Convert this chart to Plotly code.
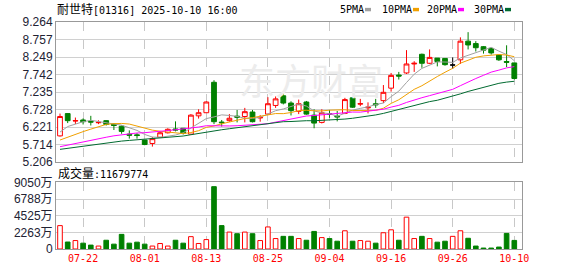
import plotly.graph_objects as go
import pandas as pd

# ---------------- data ----------------
dates = ["07-17", "07-18", "07-21", "07-22", "07-23", "07-24", "07-25", "07-28", "07-29", "07-30",
         "07-31", "08-01", "08-04", "08-05", "08-06", "08-07", "08-08", "08-11", "08-12", "08-13",
         "08-14", "08-15", "08-18", "08-19", "08-20", "08-21", "08-22", "08-25", "08-26", "08-27",
         "08-28", "08-29", "09-01", "09-02", "09-03", "09-04", "09-05", "09-08", "09-09", "09-10",
         "09-11", "09-12", "09-15", "09-16", "09-17", "09-18", "09-19", "09-22", "09-23", "09-24",
         "09-25", "09-26", "09-29", "09-30", "10-02", "10-03", "10-06", "10-08", "10-09", "10-10"]

opens = [5.97, 6.615, 6.40, 6.43, 6.39, 6.35, 6.41, 6.31, 6.25, 6.02,
         6.00, 5.85, 5.75, 5.93, 6.06, 6.17, 6.19, 6.02, 6.55, 6.64,
         7.52, 6.37, 6.41, 6.54, 6.53, 6.66, 6.49, 6.60, 6.85, 7.13,
         6.92, 6.68, 6.95, 6.57, 6.36, 6.61, 6.54, 6.62, 7.07, 6.89,
         6.78, 6.90, 6.99, 7.35, 7.73, 7.79, 8.05, 8.33, 8.07, 8.22,
         8.21, 8.02, 8.17, 8.71, 8.64, 8.55, 8.50, 8.31, 8.12, 8.08]
highs = [6.615, 6.62, 6.50, 6.475, 6.55, 6.42, 6.42, 6.34, 6.27, 6.13,
         6.05, 5.85, 5.94, 6.11, 6.19, 6.39, 6.19, 6.60, 6.74, 6.97,
         7.58, 6.43, 6.60, 6.72, 6.78, 6.72, 6.57, 7.09, 7.11, 7.23,
         6.97, 7.02, 6.98, 6.74, 6.74, 6.72, 6.69, 7.07, 7.07, 7.04,
         6.94, 7.04, 7.44, 7.79, 7.82, 8.45, 8.13, 8.35, 8.47, 8.22,
         8.21, 8.24, 8.82, 8.97, 8.71, 8.57, 8.52, 8.31, 8.59, 8.08]
lows = [5.95, 6.34, 6.31, 6.30, 6.27, 6.31, 6.27, 6.14, 6.03, 5.89,
        5.89, 5.70, 5.66, 5.93, 6.04, 6.10, 6.01, 6.02, 6.47, 6.64,
        6.31, 6.24, 6.38, 6.36, 6.36, 6.36, 6.38, 6.60, 6.78, 6.88,
        6.56, 6.60, 6.58, 6.19, 6.33, 6.49, 6.39, 6.60, 6.78, 6.83,
        6.62, 6.78, 6.92, 7.25, 7.60, 7.76, 7.82, 7.94, 8.05, 7.98,
        8.00, 7.91, 8.05, 8.47, 8.41, 8.35, 8.32, 8.14, 7.96, 7.60]
closes = [6.53, 6.41, 6.41, 6.38, 6.37, 6.36, 6.30, 6.27, 6.10, 5.99,
          5.98, 5.72, 5.89, 6.06, 6.16, 6.14, 6.05, 6.57, 6.64, 6.95,
          6.38, 6.35, 6.48, 6.51, 6.67, 6.38, 6.50, 6.90, 7.04, 6.92,
          6.70, 6.90, 6.60, 6.34, 6.64, 6.59, 6.52, 7.02, 6.80, 6.90,
          6.80, 6.87, 7.23, 7.72, 7.70, 8.05, 8.07, 8.07, 8.24, 8.12,
          8.03, 8.02, 8.71, 8.60, 8.52, 8.45, 8.37, 8.17, 8.10, 7.63]
# volume in 万 shares
volumes = [3180, 950, 1150, 795, 530, 400, 1190, 660, 1990, 795,
           930, 660, 400, 750, 400, 1190, 795, 1680, 750, 1280,
           8480, 3180, 2300, 2080, 2300, 2080, 1150, 3000, 1420, 1720,
           1720, 1420, 1190, 2390, 1550, 1420, 1060, 2480, 1060, 1150,
           1060, 795, 2210, 2610, 1190, 4330, 1420, 1720, 1420, 930,
           1060, 1720, 2480, 1460, 400, 130, 130, 265, 2120, 1167.9774]
# closes before the visible window (estimated so the MA lines start where they do)
prior_closes = [5.45, 5.42, 5.40, 5.43, 5.45, 5.41, 5.44, 5.42, 5.40, 5.44,
                5.44, 5.46, 5.47, 5.45, 5.48, 5.46, 5.44, 5.47, 5.49, 5.48,
                5.55, 5.60, 5.62, 5.65, 5.68, 5.61, 6.06, 6.03, 6.17]

x_labels = ["07-22", "08-01", "08-13", "08-25", "09-04", "09-16", "09-26", "10-10"]
price_ticks = [5.206, 5.714, 6.221, 6.728, 7.235, 7.742, 8.249, 8.757, 9.264]
vol_ticks = [0, 2262.5, 4525, 6787.5, 9050]
vol_tick_text = ["0", "2263万", "4525万", "6788万", "9050万"]
ma_periods = [5, 10, 20, 30]
ma_names = ["5PMA", "10PMA", "20PMA", "30PMA"]
ma_colors = ["#a0a0a0", "#f0a000", "#ff00ff", "#006a30"]
title_code = "[01316] 2025-10-10 16:00"
title_name = "耐世特"
last_volume = "11679774"

RED = "#ff0000"
GREEN = "#008000"

# ---------------- figure ----------------
n = len(dates)
xs = list(range(n))
tick_idx = [dates.index(d) for d in x_labels]

fig = go.Figure()

# watermark (drawn first so it lies beneath)
fig.add_trace(go.Scatter(x=[32.6], y=[7.40], mode="text", text=["东方财富"],
                         textfont=dict(family="Noto Sans CJK SC", size=36, color="#ececec"),
                         hoverinfo="skip", showlegend=False))

all_c = pd.Series(prior_closes + closes)
for p, name, col in zip(ma_periods, ma_names, ma_colors):
    ma = all_c.rolling(p).mean().iloc[-n:].tolist()
    fig.add_trace(go.Scatter(x=xs, y=ma, mode="lines", line=dict(color=col, width=1),
                             hoverinfo="skip", showlegend=False))

norm = [i for i in xs if closes[i] != opens[i]]
flat = [i for i in xs if closes[i] == opens[i]]
fig.add_trace(go.Candlestick(
    x=norm, open=[opens[i] for i in norm], high=[highs[i] for i in norm],
    low=[lows[i] for i in norm], close=[closes[i] for i in norm],
    increasing=dict(line=dict(color=RED, width=1), fillcolor="#ffffff"),
    decreasing=dict(line=dict(color=GREEN, width=1), fillcolor=GREEN),
    whiskerwidth=0, hoverinfo="skip", showlegend=False))
if flat:
    fig.add_trace(go.Candlestick(
        x=flat, open=[opens[i] for i in flat], high=[highs[i] for i in flat],
        low=[lows[i] for i in flat], close=[closes[i] for i in flat],
        increasing=dict(line=dict(color="#000000", width=1), fillcolor="#000000"),
        decreasing=dict(line=dict(color="#000000", width=1), fillcolor="#000000"),
        whiskerwidth=0, hoverinfo="skip", showlegend=False))

up = [closes[i] >= opens[i] for i in xs]
fig.add_trace(go.Bar(x=xs, y=volumes, xaxis="x2", yaxis="y2", width=0.6,
                     marker=dict(color=["#ffffff" if u else GREEN for u in up],
                                 line=dict(color=[RED if u else GREEN for u in up], width=1)),
                     hoverinfo="skip", showlegend=False))

L, R, T, B = 56, 56, 22, 21
W, H = 578, 276
PW, PH = W - L - R, H - T - B


def px(x):
    return (x - L) / PW


def py(y):
    return (H - B - y) / PH


axis_font = dict(family="Liberation Sans, Arial, Noto Sans CJK SC", size=12, color="#222233")
mono = "DejaVu Sans Mono, Noto Sans CJK SC"
xr = [-0.52, 60.0]
common_x = dict(range=xr, tickvals=tick_idx, ticktext=x_labels, showgrid=True,
                gridcolor="#c8c8c8", griddash="dash", gridwidth=1, zeroline=False,
                showline=True, mirror=True, linecolor="#999999", linewidth=1, ticks="")

fig.update_layout(
    width=W, height=H, margin=dict(l=L, r=R, t=T, b=B),
    paper_bgcolor="#ffffff", plot_bgcolor="#ffffff", showlegend=False,
    boxgap=0.38, boxgroupgap=0,
    xaxis=dict(**common_x, domain=[0, 1], anchor="y", showticklabels=False,
               rangeslider=dict(visible=False)),
    yaxis=dict(domain=[py(166), 1], range=[price_ticks[0], price_ticks[-1]],
               tickvals=price_ticks, ticktext=[f"{v:.3f}" for v in price_ticks],
               showgrid=True, gridcolor="#d0d0d0", zeroline=False, showline=True, mirror=True,
               linecolor="#999999", linewidth=1, ticks="", tickfont=axis_font),
    xaxis2=dict(**common_x, domain=[0, 1], anchor="y2", showticklabels=True,
                tickfont=dict(family=mono, size=10, color=RED)),
    yaxis2=dict(domain=[0, py(186.7)], range=[0, vol_ticks[-1]], tickvals=vol_ticks,
                ticktext=vol_tick_text, showgrid=True, gridcolor="#d0d0d0", zeroline=False,
                showline=True, mirror=True, linecolor="#999999", linewidth=1, ticks="",
                tickfont=axis_font, anchor="x2"),
)

ann = []
ann.append(dict(x=px(55), y=py(9), xref="paper", yref="paper", xanchor="left", yanchor="middle",
                showarrow=False,
                text=f"<span style='font-size:12px'>{title_name}</span>{title_code}",
                font=dict(family=mono, size=10, color="#000000")))
ann.append(dict(x=px(56), y=py(177), xref="paper", yref="paper", xanchor="left", yanchor="middle",
                showarrow=False,
                text=f"<span style='font-size:12px'>成交量</span>:{last_volume}",
                font=dict(family=mono, size=10, color="#000000")))
legend_x = [338, 380, 425, 472]
shapes = []
for lx, name, col in zip(legend_x, ma_names, ma_colors):
    ann.append(dict(x=px(lx), y=py(9), xref="paper", yref="paper", xanchor="left",
                    yanchor="middle", showarrow=False, text=name,
                    font=dict(family=mono, size=10, color="#000000")))
    sx = lx + len(name) * 6 + 3
    shapes.append(dict(type="rect", xref="paper", yref="paper", x0=px(sx), x1=px(sx + 6),
                       y0=py(11), y1=py(7.5), fillcolor=col, line=dict(width=0)))
fig.update_layout(annotations=ann, shapes=shapes)

fig.write_html("out.html")
